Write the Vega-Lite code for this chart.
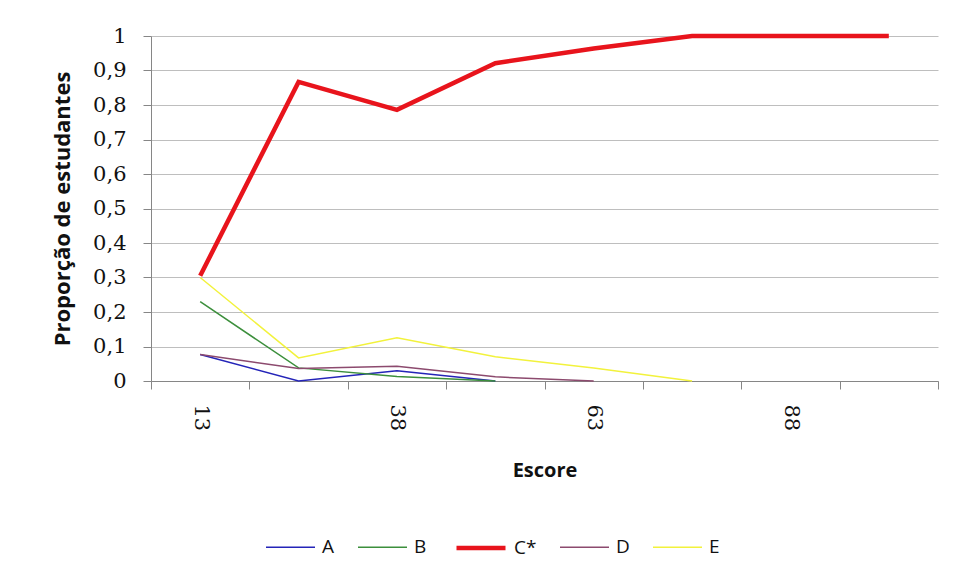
{
  "$schema": "https://vega.github.io/schema/vega-lite/v6.json",
  "width": 787,
  "height": 345,
  "autosize": {"type": "none"},
  "padding": {"left": 151, "top": 36, "right": 18, "bottom": 196},
  "background": "white",
  "config": {"view": {"stroke": null}},
  "data": {
    "values": [
      {"alt": "A", "escore": "13", "p": 0.077},
      {"alt": "A", "escore": "25", "p": 0.0},
      {"alt": "A", "escore": "38", "p": 0.03},
      {"alt": "A", "escore": "50", "p": 0.0},
      {"alt": "B", "escore": "13", "p": 0.23},
      {"alt": "B", "escore": "25", "p": 0.038},
      {"alt": "B", "escore": "38", "p": 0.013},
      {"alt": "B", "escore": "50", "p": 0.0},
      {"alt": "C*", "escore": "13", "p": 0.305},
      {"alt": "C*", "escore": "25", "p": 0.867},
      {"alt": "C*", "escore": "38", "p": 0.786},
      {"alt": "C*", "escore": "50", "p": 0.921},
      {"alt": "C*", "escore": "63", "p": 0.964},
      {"alt": "C*", "escore": "75", "p": 1.0},
      {"alt": "C*", "escore": "88", "p": 1.0},
      {"alt": "C*", "escore": "100", "p": 1.0},
      {"alt": "D", "escore": "13", "p": 0.077},
      {"alt": "D", "escore": "25", "p": 0.036},
      {"alt": "D", "escore": "38", "p": 0.043},
      {"alt": "D", "escore": "50", "p": 0.012},
      {"alt": "D", "escore": "63", "p": 0.0},
      {"alt": "E", "escore": "13", "p": 0.3},
      {"alt": "E", "escore": "25", "p": 0.067},
      {"alt": "E", "escore": "38", "p": 0.125},
      {"alt": "E", "escore": "50", "p": 0.07},
      {"alt": "E", "escore": "63", "p": 0.038},
      {"alt": "E", "escore": "75", "p": 0.0}
    ]
  },
  "mark": {"type": "line", "strokeJoin": "miter"},
  "encoding": {
    "x": {
      "field": "escore",
      "type": "ordinal",
      "sort": ["13", "25", "38", "50", "63", "75", "88", "100"],
      "scale": {"type": "band", "paddingInner": 0, "paddingOuter": 0},
      "bandPosition": 0.5,
      "axis": {
        "title": "Escore",
        "titleFont": "Open Sans",
        "titleFontSize": 20,
        "titleFontWeight": "bold",
        "titleColor": "#111111",
        "titlePadding": 30,
        "labelExpr": "indexof(['13','38','63','88'], datum.label) >= 0 ? datum.label : ''",
        "labelAngle": 90,
        "labelAlign": "left",
        "labelBaseline": "middle",
        "labelFont": "DejaVu Serif",
        "labelFontSize": 21,
        "labelColor": "#111111",
        "labelPadding": 15,
        "tickBand": "extent",
        "tickSize": 8,
        "tickColor": "#868686",
        "domainColor": "#868686",
        "grid": false
      }
    },
    "y": {
      "field": "p",
      "type": "quantitative",
      "scale": {"domain": [0, 1], "nice": false, "zero": true},
      "axis": {
        "title": "Proporção de estudantes",
        "titleFont": "Open Sans",
        "titleFontSize": 22,
        "titleFontWeight": "bold",
        "titleColor": "#111111",
        "titlePadding": 18,
        "values": [0, 0.1, 0.2, 0.3, 0.4, 0.5, 0.6, 0.7, 0.8, 0.9, 1],
        "labelExpr": "replace(format(datum.value, '.1~f'), '.', ',')",
        "labelFont": "DejaVu Serif",
        "labelFontSize": 21,
        "labelColor": "#111111",
        "labelPadding": 17,
        "tickSize": 8,
        "tickColor": "#868686",
        "domainColor": "#868686",
        "grid": true,
        "gridColor": "#BEBEBE"
      }
    },
    "color": {
      "field": "alt",
      "type": "nominal",
      "scale": {
        "domain": ["A", "B", "C*", "D", "E"],
        "range": ["#2424B8", "#3C8F3C", "#E8141C", "#8C4A6E", "#F2F23C"]
      },
      "legend": {
        "title": null,
        "orient": "none",
        "legendX": 114,
        "legendY": 485,
        "direction": "horizontal",
        "symbolType": "stroke",
        "symbolSize": 2401,
        "labelFont": "Open Sans",
        "labelFontSize": 19,
        "labelColor": "#111111",
        "labelOffset": 6,
        "columnPadding": 20
      }
    },
    "strokeWidth": {
      "field": "alt",
      "type": "nominal",
      "scale": {"type": "ordinal", "domain": ["A", "B", "C*", "D", "E"], "range": [1.5, 1.5, 4.5, 1.5, 1.5]},
      "legend": null
    }
  }
}
